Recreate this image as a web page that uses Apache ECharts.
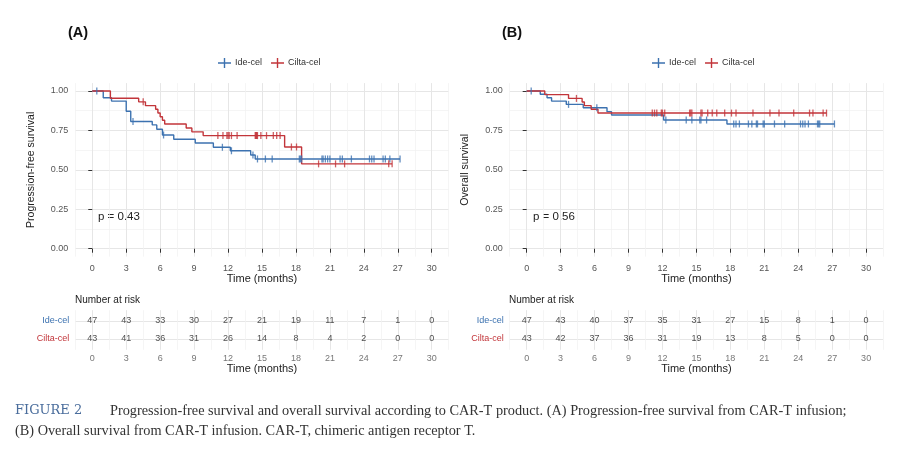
<!DOCTYPE html>
<html>
<head>
<meta charset="utf-8">
<script src="https://cdn.jsdelivr.net/npm/echarts@6/dist/echarts.min.js"></script>
<style>
  html, body { margin: 0; padding: 0; background: #fff; }
  #main { width: 900px; height: 449px; }
</style>
</head>
<body>
<div id="main"></div>
<script>
// ---- data ----
// Kaplan-Meier steps: [time (months), survival after the drop]
const pfsIdeSteps = [[0, 1], [0.97, 0.957], [1.7, 0.936], [3.0, 0.872], [3.4, 0.807], [5.3, 0.785],
  [5.7, 0.757], [6.2, 0.721], [7.2, 0.694], [9.1, 0.670], [10.7, 0.643], [12.2, 0.621],
  [14.0, 0.594], [14.4, 0.569]];
const pfsIdeCensor = [0.4, 3.6, 6.3, 11.5, 12.3, 14.2, 14.6, 15.3, 15.9, 18.3, 18.4, 18.5, 20.3, 20.4,
  20.6, 20.8, 21.0, 21.9, 22.1, 22.9, 24.5, 24.7, 24.9, 25.7, 25.9, 26.3, 27.2];
const pfsCiltaSteps = [[0, 1], [1.6, 0.954], [4.1, 0.931], [4.7, 0.907], [5.6, 0.884], [5.8, 0.860],
  [6.0, 0.837], [6.2, 0.814], [6.4, 0.791], [8.3, 0.765], [8.8, 0.741], [9.8, 0.717],
  [17.0, 0.645], [18.5, 0.538]];
const pfsCiltaCensor = [4.5, 11.1, 11.55, 11.9, 12.0, 12.1, 12.3, 12.8, 14.4, 14.45, 14.5, 14.55, 14.6,
  14.9, 15.4, 16.0, 16.3, 16.6, 17.6, 18.05, 20.0, 21.5, 22.3, 26.2, 26.5];

const osIdeSteps = [[0, 1], [1.2, 0.979], [1.8, 0.957], [2.2, 0.936], [3.5, 0.915], [5.0, 0.894],
  [7.1, 0.869], [7.5, 0.848], [12.1, 0.816], [17.7, 0.791]];
const osIdeCensor = [0.4, 3.7, 6.2, 12.3, 14.1, 14.6, 15.3, 15.4, 15.9, 18.3, 18.5, 18.8, 19.6, 19.9,
  20.3, 20.4, 20.9, 21.0, 21.9, 22.8, 24.2, 24.4, 24.6, 24.9, 25.7, 25.8, 25.9, 27.2];
const osCiltaSteps = [[0, 1], [1.6, 0.977], [3.7, 0.953], [4.9, 0.930], [5.1, 0.907], [5.7, 0.884],
  [6.3, 0.860]];
const osCiltaCensor = [4.4, 11.1, 11.3, 11.5, 11.9, 12.0, 12.2, 14.4, 14.5, 14.6, 15.4, 15.5, 16.0,
  16.4, 16.8, 17.5, 18.1, 18.5, 20.0, 21.5, 22.3, 23.6, 25.0, 25.3, 26.2, 26.5];

// number at risk
const riskTimes = [0, 3, 6, 9, 12, 15, 18, 21, 24, 27, 30];
const pfsIdeRisk = [47, 43, 33, 30, 27, 21, 19, 11, 7, 1, 0];
const pfsCiltaRisk = [43, 41, 36, 31, 26, 14, 8, 4, 2, 0, 0];
const osIdeRisk = [47, 43, 40, 37, 35, 31, 27, 15, 8, 1, 0];
const osCiltaRisk = [43, 42, 37, 36, 31, 19, 13, 8, 5, 0, 0];

const xTicks = [0, 3, 6, 9, 12, 15, 18, 21, 24, 27, 30];
const xMinor = [-1.5, 1.5, 4.5, 7.5, 10.5, 13.5, 16.5, 19.5, 22.5, 25.5, 28.5, 31.5];
const yTicks = [0, 0.25, 0.5, 0.75, 1];
const yMinor = [0.125, 0.375, 0.625, 0.875];
const groups = ['Ide-cel', 'Cilta-cel'];

// ---- helpers ----
const BLUE = '#3c72b0';
const RED = '#c2353a';
const FONT = 'Liberation Sans, Arial, sans-serif';
const SERIF = 'Liberation Serif, Times New Roman, serif';
const panelW = 373.4;
const leftA = 75.3, leftB = 509.7;

function survAt(steps, t) {
  let s = steps[0][1];
  for (const p of steps) { if (p[0] <= t) s = p[1]; }
  return s;
}
function curve(steps, censor) {
  const last = steps[steps.length - 1];
  const end = Math.max(last[0], ...censor);
  return steps.concat([[end, last[1]]]);
}
function censorPts(steps, censor) {
  return censor.map(t => [t, survAt(steps, t)]);
}

const chart = echarts.init(document.getElementById('main'), null, { renderer: 'canvas' });

const grids = [
  { left: leftA, top: 83.1, width: panelW, height: 173.5 },
  { left: leftB, top: 83.1, width: panelW, height: 173.5 },
  { left: leftA, top: 310.2, width: panelW, height: 39.6 },
  { left: leftB, top: 310.2, width: panelW, height: 39.6 }
];

const xAxes = [];
const yAxes = [];
grids.forEach((g, i) => {
  const isKm = i < 2;
  xAxes.push({
    type: 'value', gridIndex: i, min: -1.5, max: 31.5,
    name: 'Time (months)', nameLocation: 'middle', nameGap: isKm ? 17 : 14,
    nameTextStyle: { fontSize: 11, color: '#222', fontFamily: FONT },
    axisLine: { show: false },
    axisTick: { show: isKm, customValues: xTicks, length: 4, lineStyle: { color: '#333', width: 1 } },
    axisLabel: { customValues: xTicks, fontSize: 9, color: isKm ? '#555' : '#777', margin: isKm ? 7 : 4, fontFamily: FONT },
    splitLine: { show: true, lineStyle: { color: '#e6e6e6', width: 1 } }
  });
  xAxes.push({
    type: 'value', gridIndex: i, min: -1.5, max: 31.5,
    axisLine: { show: false },
    axisTick: { show: false, customValues: xMinor },
    axisLabel: { show: false },
    splitLine: { show: true, lineStyle: { color: '#f0f0f0', width: 0.7 } }
  });
  if (isKm) {
    yAxes.push({
      type: 'value', gridIndex: i, min: -0.05, max: 1.05,
      name: i === 0 ? 'Progression-free survival' : 'Overall survival',
      nameLocation: 'middle', nameGap: 39,
      nameTextStyle: { fontSize: 10.5, color: '#222', fontFamily: FONT },
      axisLine: { show: false },
      axisTick: { show: true, customValues: yTicks, length: 4, lineStyle: { color: '#333', width: 1 } },
      axisLabel: { customValues: yTicks, fontSize: 9, color: '#555', margin: 7, fontFamily: FONT,
        formatter: v => v.toFixed(2) },
      splitLine: { show: true, lineStyle: { color: '#e6e6e6', width: 1 } }
    });
    yAxes.push({
      type: 'value', gridIndex: i, min: -0.05, max: 1.05,
      axisLine: { show: false },
      axisTick: { show: false, customValues: yMinor },
      axisLabel: { show: false },
      splitLine: { show: true, lineStyle: { color: '#f0f0f0', width: 0.7 } }
    });
  } else {
    yAxes.push({
      type: 'value', gridIndex: i, min: 0.4, max: 2.6,
      axisLine: { show: false },
      axisTick: { show: false, customValues: [1, 2] },
      axisLabel: { customValues: [1, 2], fontSize: 9, margin: 6, fontFamily: FONT,
        formatter: v => (v === 2 ? groups[0] : groups[1]),
        color: v => (String(v) === '2' ? BLUE : RED) },
      splitLine: { show: true, lineStyle: { color: '#e6e6e6', width: 1 } }
    });
    yAxes.push({ type: 'value', gridIndex: i, min: 0.4, max: 2.6, show: false, splitLine: { show: false } });
  }
});

function kmSeries(name, color, steps, censor, panel) {
  return [
    {
      name: name, type: 'line', step: 'end', xAxisIndex: panel * 2, yAxisIndex: panel * 2,
      data: curve(steps, censor), showSymbol: false, symbol: 'none',
      lineStyle: { color: color, width: 1.4 }, itemStyle: { color: color },
      silent: true, z: 3
    },
    {
      name: name + ' censored', type: 'scatter', xAxisIndex: panel * 2, yAxisIndex: panel * 2,
      data: censorPts(steps, censor), symbol: 'rect', symbolSize: [1.3, 7],
      itemStyle: { color: color }, silent: true, z: 4
    }
  ];
}
function riskSeries(name, counts, row, panel) {
  return {
    name: name, type: 'scatter', xAxisIndex: (panel + 2) * 2, yAxisIndex: (panel + 2) * 2,
    data: riskTimes.map((t, k) => [t, row, counts[k]]),
    symbolSize: 0.01, itemStyle: { color: 'transparent' },
    label: { show: true, position: 'inside', formatter: p => String(p.value[2]),
      fontSize: 9, color: '#222', fontFamily: FONT },
    silent: true
  };
}

const series = [].concat(
  kmSeries('Ide-cel', BLUE, pfsIdeSteps, pfsIdeCensor, 0),
  kmSeries('Cilta-cel', RED, pfsCiltaSteps, pfsCiltaCensor, 0),
  kmSeries('Ide-cel', BLUE, osIdeSteps, osIdeCensor, 1),
  kmSeries('Cilta-cel', RED, osCiltaSteps, osCiltaCensor, 1),
  [riskSeries('pfs ide risk', pfsIdeRisk, 2, 0), riskSeries('pfs cilta risk', pfsCiltaRisk, 1, 0),
   riskSeries('os ide risk', osIdeRisk, 2, 1), riskSeries('os cilta risk', osCiltaRisk, 1, 1)]
);

const legendIcon = 'path://M0,4.3H13V5.7H0Z M5.8,0H7.2V10H5.8Z';
function legend(left) {
  return {
    left: left, top: 53, orient: 'horizontal', data: groups, icon: legendIcon,
    itemWidth: 13, itemHeight: 10, itemGap: 9,
    textStyle: { fontSize: 9, color: '#333', fontFamily: FONT, padding: [0, 0, 0, -1] },
    selectedMode: false
  };
}

function txt(text, x, y, opts) {
  return {
    type: 'text', x: x, y: y, silent: true,
    style: Object.assign({ text: text, fill: '#222', align: 'left', verticalAlign: 'middle',
      font: '10px ' + FONT }, opts || {})
  };
}

const graphic = [
  txt('(A)', 68, 33, { font: 'bold 14.5px ' + FONT, fill: '#111' }),
  txt('(B)', 502, 33, { font: 'bold 14.5px ' + FONT, fill: '#111' }),
  txt('p = 0.43', 98, 217, { font: '11.5px ' + FONT }),
  txt('p = 0.56', 533, 217, { font: '11.5px ' + FONT }),
  txt('Number at risk', 75, 300, { font: '10px ' + FONT }),
  txt('Number at risk', 509, 300, { font: '10px ' + FONT }),
  txt('FIGURE 2', 15, 411, { font: '13px DejaVu Serif, serif', fill: '#4a6d9c' }),
  txt('Progression-free survival and overall survival according to CAR-T product. (A) Progression-free survival from CAR-T infusion;',
    110, 411, { font: '14.3px ' + SERIF, fill: '#333' }),
  txt('(B) Overall survival from CAR-T infusion. CAR-T, chimeric antigen receptor T.',
    15, 431, { font: '14.3px ' + SERIF, fill: '#333' })
];

const option = {
  animation: false,
  backgroundColor: '#fff',
  grid: grids,
  xAxis: xAxes,
  yAxis: yAxes,
  legend: [legend(213), legend(647)],
  series: series,
  graphic: graphic
};
chart.setOption(option);
</script>
</body>
</html>
